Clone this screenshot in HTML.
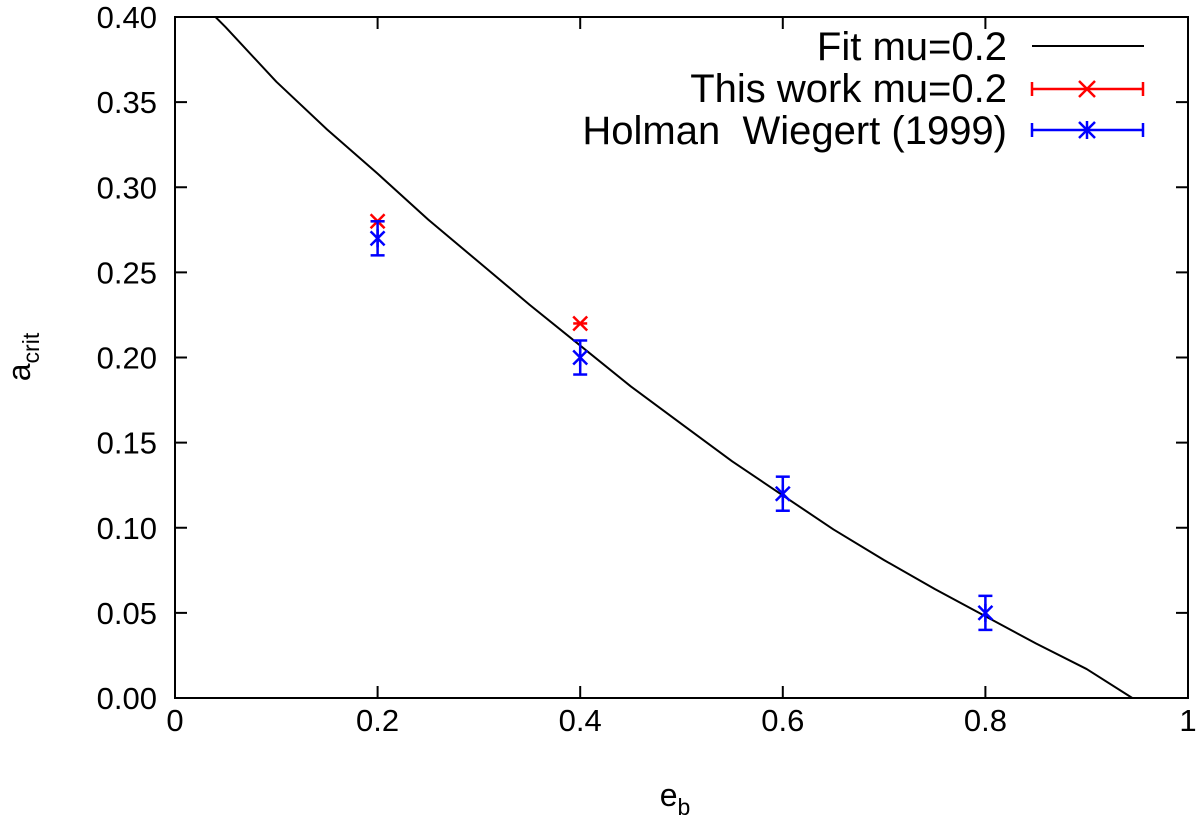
<!DOCTYPE html>
<html><head><meta charset="utf-8"><style>
html,body{margin:0;padding:0;background:#fff;}
svg{display:block;font-family:"Liberation Sans",sans-serif;}
</style></head><body>
<svg id="chart" width="1200" height="821">
<rect x="175" y="17" width="1013" height="681" fill="none" stroke="#000" stroke-width="2"/>
<g id="ticks"></g>
<g id="marks"></g>
<text x="30" y="357" font-size="32" text-anchor="middle" transform="rotate(-90 30 357)">a<tspan font-size="23" dy="9">crit</tspan></text>
<text x="675" y="806" font-size="32" text-anchor="middle">e<tspan font-size="23" dy="9">b</tspan></text>
<g font-size="40" text-anchor="end">
<g>
<text x="1007" y="60">Fit mu=0.2</text>
<line x1="1032" y1="46" x2="1144" y2="46" stroke="#000" stroke-width="2"/>
</g>
<g>
<text x="1007" y="102">This work mu=0.2</text>
<g stroke="#f00" stroke-width="2.5"><line x1="1032" y1="89" x2="1143" y2="89"/><line x1="1032" y1="82" x2="1032" y2="96"/><line x1="1143" y1="82" x2="1143" y2="96"/><line x1="1079" y1="81" x2="1095" y2="97"/><line x1="1079" y1="97" x2="1095" y2="81"/></g>
</g>
<g>
<text x="1007" y="144">Holman&#160;&#160;Wiegert (1999)</text>
<g stroke="#00f" stroke-width="2.5"><line x1="1032" y1="130" x2="1143" y2="130"/><line x1="1032" y1="123" x2="1032" y2="137"/><line x1="1143" y1="123" x2="1143" y2="137"/><line x1="1079" y1="122" x2="1095" y2="138"/><line x1="1079" y1="138" x2="1095" y2="122"/><line x1="1087" y1="121" x2="1087" y2="139"/></g>
</g>
</g>
</svg>
<script>
const xTicks=[0,0.2,0.4,0.6,0.8,1];
const xTickLabels=["0","0.2","0.4","0.6","0.8","1"];
const yTicks=[0,0.05,0.1,0.15,0.2,0.25,0.3,0.35,0.4];
const yTickLabels=["0.00","0.05","0.10","0.15","0.20","0.25","0.30","0.35","0.40"];
const fitE=[0.0,0.04,0.05,0.1,0.15,0.2,0.25,0.3,0.35,0.4,0.45,0.5,0.55,0.6,0.65,0.7,0.75,0.8,0.85,0.9,0.945];
const fitA=[0.425,0.40,0.394,0.362,0.334,0.308,0.281,0.256,0.231,0.207,0.183,0.161,0.139,0.119,0.099,0.081,0.064,0.048,0.032,0.017,0.0];
const thisE=[0.2,0.4];
const thisA=[0.28,0.22];
const hwE=[0.2,0.4,0.6,0.8];
const hwA=[0.27,0.20,0.12,0.05];
const hwErr=[0.01,0.01,0.01,0.01];
const X=v=>175+v*1013, Y=v=>698-v/0.4*681;
const NS="http://www.w3.org/2000/svg";
function mk(t,a,p){const e=document.createElementNS(NS,t);for(const k in a)e.setAttribute(k,a[k]);p.appendChild(e);return e;}
const tk=document.getElementById('ticks'), mg=document.getElementById('marks');
xTicks.forEach((v,i)=>{
 const g=mk('g',{},tk);
 
 
 mk('line',{x1:X(v),y1:698,x2:X(v),y2:686,stroke:'#000','stroke-width':2},g);
 mk('line',{x1:X(v),y1:17,x2:X(v),y2:29,stroke:'#000','stroke-width':2},g);
 const t=mk('text',{x:X(v),y:731,'font-size':31,'text-anchor':'middle'},g);t.textContent=xTickLabels[i];
});
yTicks.forEach((v,i)=>{
 const g=mk('g',{},tk);
 
 
 mk('line',{x1:175,y1:Y(v),x2:187,y2:Y(v),stroke:'#000','stroke-width':2},g);
 mk('line',{x1:1188,y1:Y(v),x2:1176,y2:Y(v),stroke:'#000','stroke-width':2},g);
 const t=mk('text',{x:157,y:Y(v)+11,'font-size':31,'text-anchor':'end'},g);t.textContent=yTickLabels[i];
});
const cp=mk('clipPath',{id:'clip'},mg);mk('rect',{x:175,y:17,width:1013,height:681},cp);
const fit=mk('polyline',{points:fitE.map((e,i)=>X(e)+','+Y(fitA[i])).join(' '),fill:'none',stroke:'#000','stroke-width':2,'stroke-linejoin':'round','clip-path':'url(#clip)'},mg);


thisE.forEach((e,i)=>{
 const g=mk('g',{stroke:'#f00','stroke-width':2.5},mg);
 
 
 const x=X(e),y=Y(thisA[i]);
 mk('line',{x1:x-7,y1:y-7,x2:x+7,y2:y+7},g);mk('line',{x1:x-7,y1:y+7,x2:x+7,y2:y-7},g);
 mk('line',{x1:x-7,y1:y,x2:x+7,y2:y},g);
});
hwE.forEach((e,i)=>{
 const g=mk('g',{stroke:'#00f','stroke-width':2.5},mg);
 
 
 const x=X(e),y=Y(hwA[i]),y1=Y(hwA[i]+hwErr[i]),y2=Y(hwA[i]-hwErr[i]);
 mk('line',{x1:x,y1:y1,x2:x,y2:y2},g);
 mk('line',{x1:x-7,y1:y1,x2:x+7,y2:y1},g);mk('line',{x1:x-7,y1:y2,x2:x+7,y2:y2},g);
 mk('line',{x1:x-7,y1:y-7,x2:x+7,y2:y+7},g);mk('line',{x1:x-7,y1:y+7,x2:x+7,y2:y-7},g);
 mk('line',{x1:x,y1:y-9,x2:x,y2:y+9},g);
});
</script>
</body></html>
